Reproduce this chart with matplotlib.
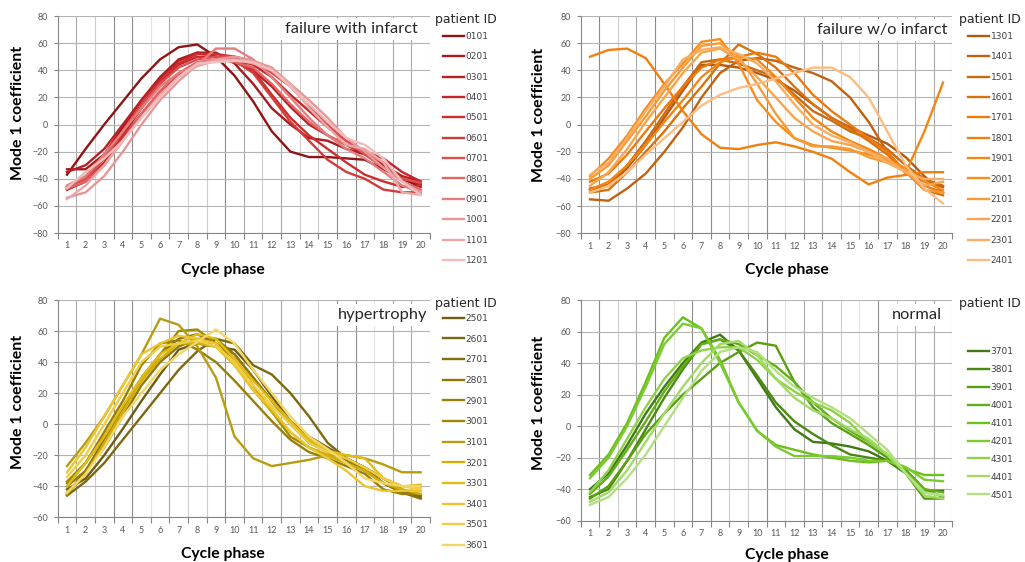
import matplotlib
matplotlib.use('Agg')
import matplotlib.pyplot as plt
import numpy as np

# cycle phases on the x axis
phases = list(range(1, 21))

# failure with infarct
ids_infarct = ['0101', '0201', '0301', '0401', '0501', '0601', '0701', '0801', '0901', '1001', '1101', '1201']
vals_infarct = [
    [-37, -18, 0, 17, 34, 48, 57, 59, 50, 36, 17, -5, -20, -24, -24, -25, -26, -33, -40, -46],
    [-33, -33, -22, -2, 18, 35, 48, 53, 53, 45, 30, 12, 0, -10, -12, -18, -22, -30, -40, -44],
    [-35, -30, -18, 0, 18, 34, 47, 53, 50, 46, 40, 28, 13, 0, -8, -15, -22, -30, -38, -42],
    [-48, -42, -28, -8, 12, 30, 44, 50, 50, 48, 44, 35, 22, 10, -2, -12, -20, -25, -35, -42],
    [-47, -40, -25, -5, 15, 32, 45, 52, 52, 50, 40, 22, 5, -8, -18, -28, -37, -42, -46, -45],
    [-48, -42, -30, -10, 8, 24, 37, 45, 48, 47, 38, 20, 2, -12, -26, -35, -40, -48, -50, -50],
    [-46, -40, -25, -5, 14, 30, 42, 48, 50, 50, 47, 38, 28, 14, 0, -12, -22, -32, -40, -43],
    [-47, -42, -30, -12, 8, 25, 38, 46, 48, 46, 42, 30, 15, 2, -8, -15, -20, -28, -42, -48],
    [-45, -38, -22, -5, 12, 28, 38, 44, 56, 56, 48, 35, 20, 5, -8, -18, -25, -35, -45, -50],
    [-54, -50, -38, -20, 0, 18, 32, 44, 48, 50, 47, 42, 30, 18, 5, -10, -20, -32, -42, -50],
    [-55, -45, -30, -12, 5, 22, 35, 43, 47, 48, 45, 40, 30, 12, -2, -15, -18, -28, -50, -52],
    [-47, -35, -25, -12, 5, 20, 35, 45, 46, 47, 46, 40, 28, 15, 2, -10, -15, -25, -42, -52],
]

# failure without infarct
ids_noinfarct = ['1301', '1401', '1501', '1601', '1701', '1801', '1901', '2001', '2101', '2201', '2301', '2401']
vals_noinfarct = [
    [-48, -45, -32, -15, 5, 25, 44, 44, 42, 38, 33, 25, 15, 5, -2, -8, -14, -24, -38, -50],
    [-55, -56, -47, -36, -20, -2, 20, 38, 47, 49, 47, 42, 38, 32, 20, 2, -20, -36, -42, -46],
    [-47, -44, -30, -12, 8, 28, 46, 48, 45, 40, 35, 22, 10, 3, -5, -10, -18, -30, -40, -45],
    [-50, -48, -35, -20, -5, 12, 28, 45, 59, 52, 42, 28, 15, 5, -3, -12, -22, -35, -48, -52],
    [-42, -36, -22, -5, 12, 28, 42, 48, 50, 53, 50, 38, 22, 10, 0, -10, -20, -35, -45, -50],
    [50, 55, 56, 49, 30, 10, -7, -17, -18, -15, -13, -16, -20, -25, -35, -44, -39, -37, -35, -35],
    [-48, -42, -30, -15, 2, 18, 35, 46, 50, 48, 35, 20, 5, -5, -12, -18, -25, -35, -5, 31],
    [-38, -25, -8, 12, 30, 45, 61, 63, 45, 18, 2, -10, -15, -17, -19, -22, -26, -32, -42, -48],
    [-40, -30, -12, 6, 25, 42, 58, 60, 50, 30, 8, -10, -16, -16, -18, -24, -28, -34, -48, -50],
    [-45, -35, -18, 2, 20, 38, 53, 56, 48, 35, 20, 5, -5, -12, -15, -20, -25, -35, -45, -42],
    [-37, -28, -10, 10, 28, 48, 55, 57, 52, 45, 32, 15, 0, -8, -13, -20, -28, -35, -40, -40],
    [-50, -45, -35, -22, -10, 2, 14, 22, 27, 30, 34, 38, 42, 42, 35, 20, -5, -30, -47, -58],
]

# hypertrophy
ids_hyper = ['2501', '2601', '2701', '2801', '2901', '3001', '3101', '3201', '3301', '3401', '3501', '3601']
vals_hyper = [
    [-42, -35, -20, -3, 15, 32, 48, 52, 50, 48, 35, 18, 2, -8, -15, -22, -28, -38, -44, -46],
    [-46, -37, -25, -10, 5, 20, 35, 47, 55, 52, 38, 32, 20, 5, -12, -22, -28, -35, -42, -47],
    [-45, -30, -10, 10, 30, 45, 55, 58, 52, 45, 30, 15, 0, -10, -18, -23, -30, -38, -44, -48],
    [-40, -30, -15, 5, 25, 40, 50, 55, 55, 45, 30, 15, 0, -12, -18, -22, -28, -35, -40, -40],
    [-38, -25, -5, 15, 38, 52, 54, 48, 40, 28, 15, 2, -10, -18, -22, -27, -32, -42, -45, -45],
    [-37, -25, -8, 10, 28, 45, 60, 61, 52, 42, 25, 8, -8, -15, -20, -25, -30, -38, -43, -43],
    [-27, -12, 5, 25, 45, 68, 64, 50, 30, -8, -22, -27, -25, -23, -20, -20, -22, -26, -31, -31],
    [-45, -32, -12, 8, 28, 42, 52, 52, 50, 38, 22, 8, -5, -15, -20, -25, -30, -38, -42, -45],
    [-40, -25, -8, 12, 30, 45, 52, 58, 55, 42, 28, 15, 2, -10, -17, -20, -22, -35, -40, -39],
    [-31, -15, 5, 25, 45, 52, 57, 55, 52, 38, 22, 10, -5, -15, -22, -30, -40, -43, -43, -43],
    [-34, -20, 0, 20, 40, 50, 52, 54, 50, 40, 25, 12, 0, -12, -18, -22, -28, -35, -40, -42],
    [-44, -32, -15, 5, 20, 35, 45, 53, 61, 52, 35, 20, 5, -8, -16, -25, -35, -38, -40, -40],
]

# normal
ids_normal = ['3701', '3801', '3901', '4001', '4101', '4201', '4301', '4401', '4501']
vals_normal = [
    [-40, -30, -12, 8, 25, 40, 53, 58, 48, 30, 12, -2, -10, -11, -13, -16, -22, -30, -41, -41],
    [-45, -40, -22, -2, 18, 36, 52, 55, 48, 32, 15, 3, -5, -12, -18, -20, -22, -28, -40, -45],
    [-46, -38, -22, -5, 8, 20, 30, 40, 47, 53, 51, 28, 12, 2, -5, -12, -20, -30, -46, -46],
    [-43, -32, -15, 3, 22, 38, 52, 55, 52, 45, 38, 28, 15, 5, -3, -10, -18, -28, -40, -42],
    [-31, -18, 2, 28, 56, 69, 62, 42, 15, -3, -12, -15, -18, -20, -22, -23, -22, -27, -31, -31],
    [-33, -20, 0, 25, 52, 65, 62, 40, 15, -3, -13, -19, -19, -19, -20, -22, -22, -26, -34, -35],
    [-42, -28, -8, 12, 30, 43, 48, 50, 50, 42, 30, 22, 15, 10, 2, -10, -18, -30, -42, -44],
    [-48, -42, -28, -10, 8, 25, 40, 52, 54, 45, 30, 18, 10, 5, -2, -8, -18, -30, -44, -46],
    [-50, -45, -33, -18, 0, 18, 35, 47, 50, 47, 35, 25, 18, 12, 5, -5, -15, -30, -42, -44],
]

# colours per group, dark to light
reds = ['#8e1416', '#a81a1e', '#b82024', '#c4262a', '#cc2e30', '#d43a3a',
        '#dc5050', '#e06666', '#e47e7e', '#e89696', '#eca8a8', '#f0bcbc']
oranges = ['#b35a12', '#c0620f', '#cc6a10', '#da720c', '#ee7a0e', '#f27f10',
           '#f58612', '#f88e1e', '#f99a35', '#faa54e', '#fbae62', '#fcbd80']
golds = ['#6e5c12', '#7d680e', '#86700c', '#8f7808', '#988008', '#a08a05',
         '#b89c10', '#d4ae04', '#e2bc12', '#ecc630', '#f0ce44', '#f3d766']
greens = ['#3f7a14', '#4a8a12', '#58a010', '#63ae16', '#6cc01c', '#7acb2e',
          '#8fd24a', '#a2da66', '#b2e082']

# the vertical gridlines in the original render at uneven greys
shade = {'d': '#8c8c8c', 'm': '#ababab', 'l': '#cdcdcd', 'v': '#e4e4e4'}
vgrid_left = 'mlddvmlldmlmllddvmml'
vgrid_right = 'dlmdvddlldvmmlvdlmml'

W, H = 1025, 562
fig = plt.figure(figsize=(W / 100, H / 100), dpi=100)

def rect(x0, y0, x1, y1):
    # pixel box (top-left origin) -> figure fraction
    return [x0 / W, 1 - y1 / H, (x1 - x0) / W, (y1 - y0) / H]

def panel(box, ids, vals, colors, ylo, label, vgrid, label_xy, ylab_xy, xlab_xy, leg_title_xy, leg_xy, leg_space):
    ax = fig.add_axes(rect(*box))
    for pid, v, c in zip(ids, vals, colors):
        ax.plot(phases, v, color=c, lw=1.7, label=pid, zorder=3)

    ax.set_xlim(0.5, 20.5)
    ax.set_ylim(ylo, 80)
    ax.set_yticks(np.arange(ylo, 81, 20))
    ax.set_xticks(np.arange(0.5, 21, 1))
    ax.set_xticks(phases, minor=True)
    ax.set_xticklabels([str(p) for p in phases], minor=True)
    ax.tick_params(axis='x', which='major', length=4, color='#868686', labelbottom=False)
    ax.tick_params(axis='x', which='minor', length=0, pad=6, labelsize=6.5, labelcolor='#595959')
    ax.tick_params(axis='y', length=3, color='#868686', pad=4, labelsize=6.5, labelcolor='#595959')
    for t in ax.get_xticklabels(minor=True) + ax.get_yticklabels():
        t.set_family('Lato')

    # gridlines
    ax.grid(True, axis='y', color='#b4b4b4', lw=0.8)
    for b, k in zip(np.arange(1.5, 21, 1), vgrid):
        ax.axvline(b, color=shade[k], lw=0.8, zorder=0.5)
    ax.set_axisbelow(True)
    for s in ['top', 'right']:
        ax.spines[s].set_visible(False)
    for s in ['left', 'bottom']:
        ax.spines[s].set_color('#868686')

    ax.set_ylabel('Mode 1 coefficient', family='Lato', fontweight='bold', fontsize=11.4)
    ax.yaxis.set_label_coords(*ylab_xy)
    ax.set_xlabel('Cycle phase', family='Lato', fontweight='bold', fontsize=11.3)
    ax.xaxis.set_label_coords(*xlab_xy)

    ax.text(label_xy[0], label_xy[1], label, transform=ax.transAxes, ha='right', va='center',
            family='Lato', fontsize=11.8, color='#262626', zorder=4,
            bbox=dict(facecolor='white', edgecolor='none', pad=3))

    fig.text(leg_title_xy[0] / W, 1 - leg_title_xy[1] / H, 'patient ID', fontsize=9,
             va='center', ha='left', color='#262626')
    ax.legend(loc='upper left', bbox_to_anchor=(leg_xy[0] / W, 1 - leg_xy[1] / H),
              bbox_transform=fig.transFigure, frameon=False, fontsize=6.5,
              handlelength=2.3, handletextpad=0.2, labelspacing=leg_space,
              borderpad=0, borderaxespad=0, labelcolor='#404040')
    return ax

panel((57.7, 16, 430, 233), ids_infarct, vals_infarct, reds, -80, 'failure with infarct', vgrid_left,
      (0.968, 0.94), (-0.088, 0.553), (0.444, -0.138), (435, 20), (443, 32), 1.26)
panel((580.7, 16, 952.3, 233.3), ids_noinfarct, vals_noinfarct, oranges, -80, 'failure w/o infarct', vgrid_right,
      (0.986, 0.936), (-0.094, 0.544), (0.555, -0.138), (959, 19), (968, 32), 1.26)
panel((57.7, 300, 430, 517.3), ids_hyper, vals_hyper, golds, -60, 'hypertrophy', vgrid_left,
      (0.992, 0.931), (-0.088, 0.53), (0.444, -0.135), (435, 303), (443, 314), 1.29)
panel((580.7, 300, 952.3, 520.7), ids_normal, vals_normal, greens, -60, 'normal', vgrid_right,
      (0.972, 0.932), (-0.094, 0.533), (0.555, -0.124), (959, 303), (968, 347), 0.99)

plt.savefig('out.png', dpi=100)
